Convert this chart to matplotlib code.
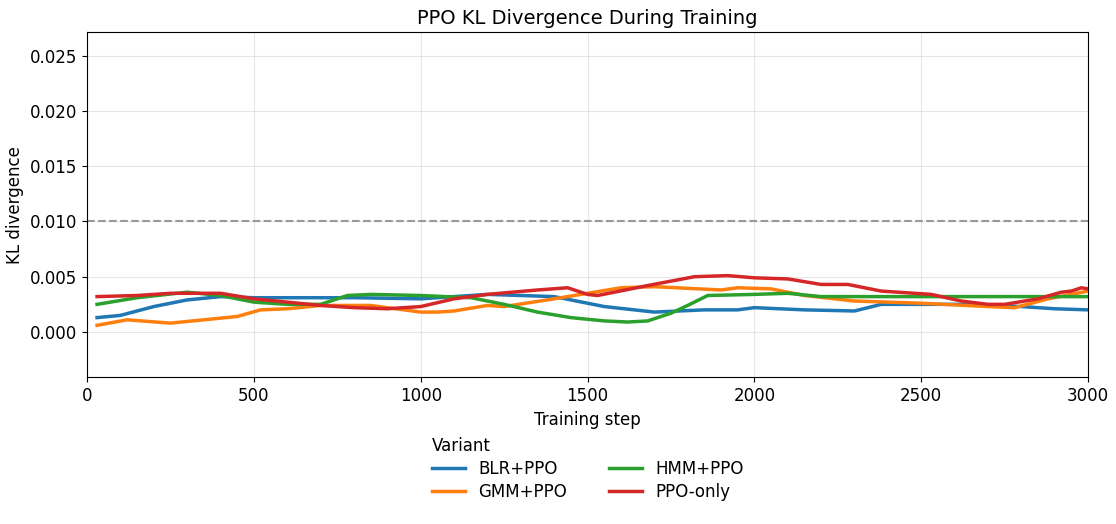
import numpy as np
import matplotlib.pyplot as plt

blr_x = [30, 100, 200, 300, 400, 500, 650, 800, 1000, 1200, 1400, 1550, 1700, 1850, 1950, 2000, 2150, 2300, 2380, 2500, 2650, 2800, 2900, 3000]
blr_y = [0.0013, 0.0015, 0.0023, 0.0029, 0.0032, 0.0031, 0.0031, 0.0031, 0.0030, 0.0034, 0.0032, 0.0023, 0.0018, 0.0020, 0.0020, 0.0022, 0.0020, 0.0019, 0.0025, 0.0025, 0.0025, 0.0023, 0.0021, 0.0020]

gmm_x = [30, 120, 250, 450, 520, 600, 700, 850, 1000, 1050, 1100, 1200, 1250, 1400, 1500, 1600, 1700, 1900, 1950, 2050, 2150, 2300, 2500, 2700, 2780, 2880, 3000]
gmm_y = [0.0006, 0.0011, 0.0008, 0.0014, 0.0020, 0.0021, 0.0024, 0.0024, 0.0018, 0.0018, 0.0019, 0.0024, 0.0023, 0.0030, 0.0035, 0.0040, 0.0041, 0.0038, 0.0040, 0.0039, 0.0033, 0.0028, 0.0026, 0.0023, 0.0022, 0.0030, 0.0037]

hmm_x = [30, 150, 300, 400, 500, 600, 700, 780, 850, 1000, 1150, 1250, 1350, 1450, 1550, 1620, 1680, 1750, 1800, 1860, 2000, 2100, 2200, 2500, 3000]
hmm_y = [0.0025, 0.0031, 0.0036, 0.0033, 0.0027, 0.0025, 0.0025, 0.0033, 0.0034, 0.0033, 0.0031, 0.0025, 0.0018, 0.0013, 0.0010, 0.0009, 0.0010, 0.0017, 0.0024, 0.0033, 0.0034, 0.0035, 0.0032, 0.0032, 0.0032]

ppo_x = [30, 150, 250, 400, 500, 600, 700, 800, 900, 1000, 1100, 1200, 1350, 1440, 1500, 1530, 1680, 1820, 1920, 1960, 2000, 2100, 2200, 2280, 2330, 2380, 2530, 2620, 2700, 2750, 2850, 2920, 2950, 2980, 3000]
ppo_y = [0.0032, 0.0033, 0.0035, 0.0035, 0.0030, 0.0027, 0.0024, 0.0022, 0.0021, 0.0023, 0.0030, 0.0034, 0.0038, 0.0040, 0.0034, 0.0033, 0.0042, 0.0050, 0.0051, 0.0050, 0.0049, 0.0048, 0.0043, 0.0043, 0.0040, 0.0037, 0.0034, 0.0028, 0.0025, 0.0025, 0.0030, 0.0036, 0.0037, 0.0040, 0.0039]

fig, ax = plt.subplots(figsize=(11.16, 5.24), dpi=100)
ax.plot(blr_x, blr_y, color='#1f77b4', lw=2.5, label='BLR+PPO')
ax.plot(gmm_x, gmm_y, color='#ff7f0e', lw=2.5, label='GMM+PPO')
ax.plot(hmm_x, hmm_y, color='#2ca02c', lw=2.5, label='HMM+PPO')
ax.plot(ppo_x, ppo_y, color='#d62728', lw=2.5, label='PPO-only')
ax.axhline(0.01, color='#999999', ls='--', lw=1.5)
ax.set_xlim(0, 3000)
ax.set_ylim(-0.0041, 0.0271)
ax.grid(True, alpha=0.3)
ax.set_title('PPO KL Divergence During Training', fontsize=14)
ax.set_xlabel('Training step', fontsize=12)
ax.set_ylabel('KL divergence', fontsize=12)
ax.tick_params(labelsize=12)
leg = ax.legend(title='Variant', ncol=2, frameon=False, loc='upper center', bbox_to_anchor=(0.5, -0.13),
                fontsize=12, title_fontsize=12, columnspacing=2.5, labelspacing=0.3,
                alignment='left')
plt.subplots_adjust(left=0.078, right=0.975, top=0.938, bottom=0.28)
fig.savefig('out.png')
